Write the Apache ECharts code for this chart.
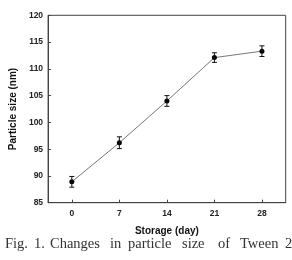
<!DOCTYPE html>
<html><head><meta charset="utf-8">
<script src="https://cdn.jsdelivr.net/npm/echarts@6/dist/echarts.min.js"></script>
<style>html,body{margin:0;padding:0;background:#fff}#c{width:292px;height:260px}</style>
</head><body><div id="c"></div>
<script>
var days = [0, 7, 14, 21, 28];
var sizes = [88.9, 96.2, 104.0, 112.1, 113.3];
var errors = [1.0, 1.1, 1.0, 0.9, 1.0];
var xTicks = [0, 7, 14, 21, 28];
var captionWords = ['Fig.', '1.', 'Changes', 'in', 'particle', 'size', 'of', 'Tween', '20'];
var captionX = [5, 34, 50, 110, 128, 182, 218, 240, 285];

var chart = echarts.init(document.getElementById('c'), null, {renderer: 'canvas'});
var pts = days.map(function (d, i) { return [d, sizes[i]]; });
var errData = days.map(function (d, i) { return [d, sizes[i] - errors[i], sizes[i] + errors[i]]; });

chart.setOption({
  animation: false,
  backgroundColor: '#fff',
  grid: {left: 41.5, right: 6.3, top: 15.3, bottom: 57.3, show: true, borderColor: '#444', borderWidth: 1},
  xAxis: {
    type: 'value', min: -3.5, max: 31.5,
    name: 'Storage (day)', nameLocation: 'middle', nameGap: 24,
    nameTextStyle: {fontFamily: 'Liberation Sans', fontWeight: 'bold', fontSize: 10, color: '#111'},
    axisLine: {show: true, onZero: false, lineStyle: {color: '#444', width: 1}},
    axisTick: {show: true, inside: true, length: 3, customValues: xTicks, lineStyle: {color: '#444'}},
    axisLabel: {customValues: xTicks, fontFamily: 'Liberation Sans', fontWeight: 'bold', fontSize: 8.5, color: '#222', margin: 6},
    splitLine: {show: false}
  },
  yAxis: {
    type: 'value', min: 85, max: 120, interval: 5,
    name: 'Particle size (nm)', nameLocation: 'middle', nameGap: 28,
    nameTextStyle: {fontFamily: 'Liberation Sans', fontWeight: 'bold', fontSize: 10, color: '#111'},
    axisLine: {show: true, onZero: false, lineStyle: {color: '#444', width: 1}},
    axisTick: {show: true, inside: true, length: 3, lineStyle: {color: '#444'}},
    axisLabel: {fontFamily: 'Liberation Sans', fontWeight: 'bold', fontSize: 8.5, color: '#222', margin: 5},
    splitLine: {show: false}
  },
  series: [
    {
      type: 'line', data: pts, symbol: 'circle', symbolSize: 5,
      lineStyle: {color: '#777', width: 1}, itemStyle: {color: '#000'}, z: 3
    },
    {
      type: 'custom', data: errData, z: 4,
      renderItem: function (params, api) {
        var x = api.value(0);
        var lo = api.coord([x, api.value(1)]);
        var hi = api.coord([x, api.value(2)]);
        var w = 2.5;
        var st = {stroke: '#111', lineWidth: 1};
        return {type: 'group', children: [
          {type: 'line', shape: {x1: lo[0], y1: lo[1], x2: hi[0], y2: hi[1]}, style: st},
          {type: 'line', shape: {x1: lo[0] - w, y1: lo[1], x2: lo[0] + w, y2: lo[1]}, style: st},
          {type: 'line', shape: {x1: hi[0] - w, y1: hi[1], x2: hi[0] + w, y2: hi[1]}, style: st}
        ]};
      }
    }
  ],
  graphic: captionWords.map(function (w, i) {
    return {type: 'text', left: captionX[i], top: 237,
      style: {text: w, fontFamily: 'Liberation Serif', fontSize: 14.5, fill: '#333'}};
  })
});
</script></body></html>
